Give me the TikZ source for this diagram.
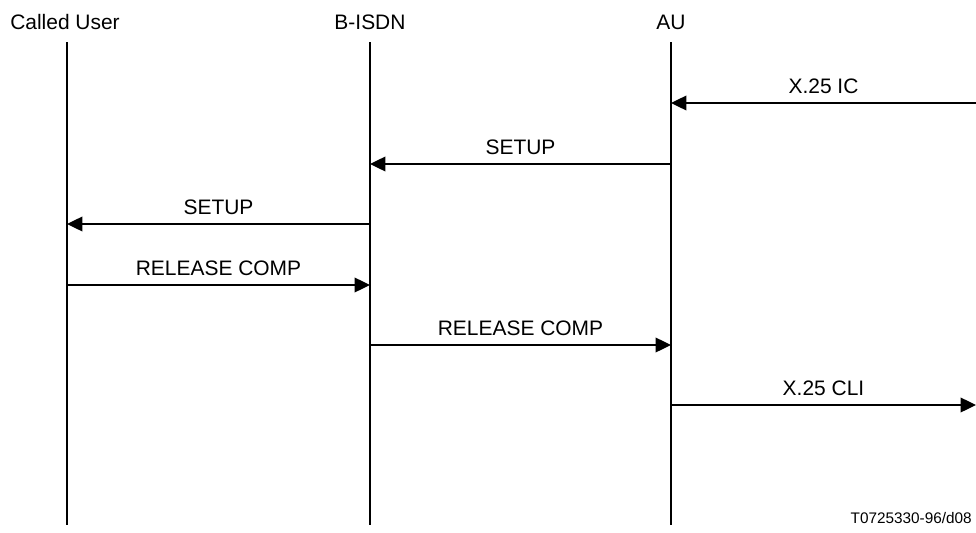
\documentclass[tikz,border=0pt]{standalone}
\usepackage{fontspec}
\setmainfont{Liberation Sans}
\usetikzlibrary{arrows.meta,positioning}
\tikzset{
  entity/.style={font=\fontsize{14.9}{17}\selectfont,inner sep=0pt,anchor=center},
  msglabel/.style={font=\fontsize{14.9}{17}\selectfont,inner sep=0pt,above=6pt},
  lifeline/.style={line width=1pt,draw=black},
  msg/.style={-{Triangle[length=11pt,width=10.5pt]},line width=1pt,draw=black}
}
\begin{document}
\begin{tikzpicture}[x=0.025cm,y=-0.025cm]
  \useasboundingbox (0,0) rectangle (976,533);

  % entities
  \node[entity] (user) at (65,22) {Called User};
  \node[entity] (isdn) at (370,22) {B-ISDN};
  \node[entity] (au) at (671,22) {AU};

  % life lines
  \coordinate (userTop) at (67,42);
  \coordinate (userBot) at (67,525);
  \coordinate (isdnTop) at (370,42);
  \coordinate (isdnBot) at (370,525);
  \coordinate (auTop) at (671,42);
  \coordinate (auBot) at (671,525);
  \draw[lifeline] (userTop) -- (userBot);
  \draw[lifeline] (isdnTop) -- (isdnBot);
  \draw[lifeline] (auTop) -- (auBot);

  % messages
  \coordinate (ext1) at (976,103);
  \coordinate (au1) at (671,103);
  \draw[msg] (ext1) -- node[msglabel] {X.25 IC} (au1);

  \coordinate (au2) at (671,164);
  \coordinate (isdn2) at (370,164);
  \draw[msg] (au2) -- node[msglabel] {SETUP} (isdn2);

  \coordinate (isdn3) at (370,224);
  \coordinate (user3) at (67,224);
  \draw[msg] (isdn3) -- node[msglabel] {SETUP} (user3);

  \coordinate (user4) at (67,285);
  \coordinate (isdn4) at (370,285);
  \draw[msg] (user4) -- node[msglabel] {RELEASE COMP} (isdn4);

  \coordinate (isdn5) at (370,345);
  \coordinate (au5) at (671,345);
  \draw[msg] (isdn5) -- node[msglabel] {RELEASE COMP} (au5);

  \coordinate (au6) at (671,405);
  \coordinate (ext6) at (976,405);
  \draw[msg] (au6) -- node[msglabel] {X.25 CLI} (ext6);

  \node[font=\fontsize{10.9}{13}\selectfont,inner sep=0pt,anchor=east] (ref) at (972,518) {T0725330-96/d08};
\end{tikzpicture}
\end{document}
